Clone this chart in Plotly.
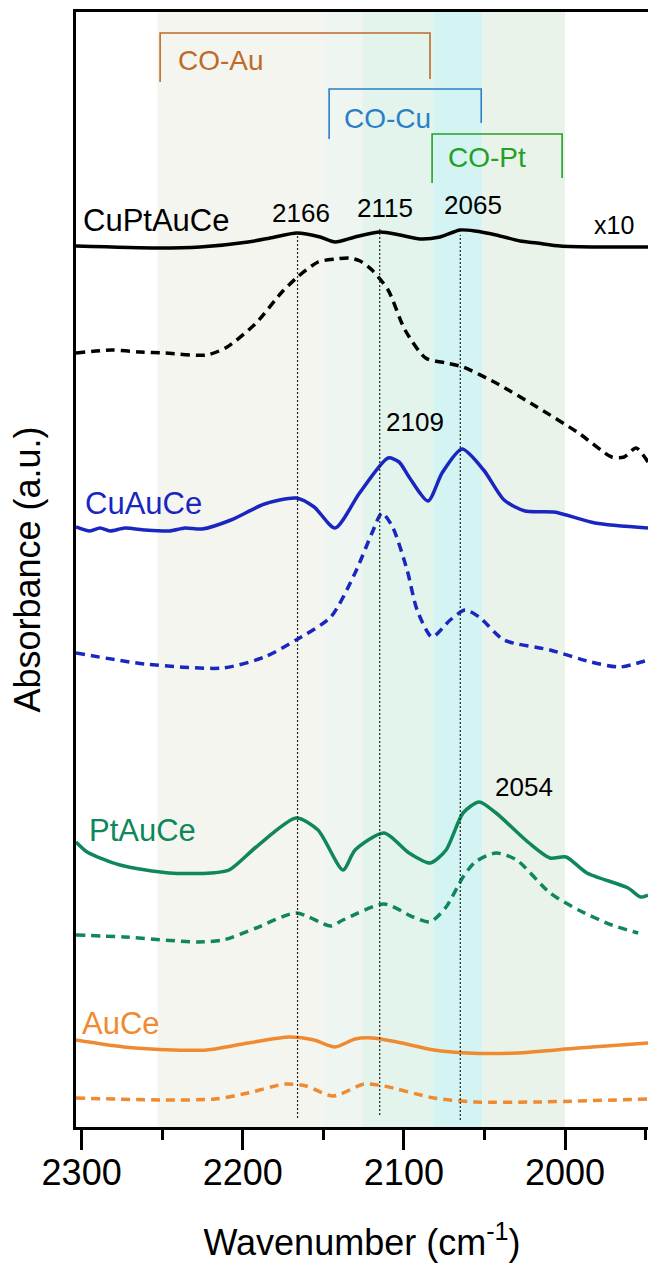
import plotly.graph_objects as go

# ---------------- data (wavenumber, absorbance a.u. with offsets) ----------------
cuptauce_x = [2303.5, 2253, 2226.5, 2196.7, 2183, 2166.3, 2152, 2142.7, 2130.3, 2114.8, 2102.4, 2090,
              2077.6, 2065.2, 2055.8, 2042.8, 2027.9, 2017.4, 2003, 1978.2, 1948.5]
cuptauce_y = [88.1, 87.9, 88.0, 88.5, 88.9, 89.4, 89.0, 88.5, 89.0, 89.5, 89.2, 88.8,
              89.0, 89.7, 89.6, 89.2, 88.6, 88.4, 88.1, 88.0, 88.0]

cuptauce_d_x = [2303.5, 2281.4, 2263.7, 2248.2, 2222.2, 2209.7, 2191.7, 2176.2, 2166, 2153.3, 2142.7,
                2134, 2127.2, 2119.8, 2109.8, 2099.3, 2086.5, 2073.8, 2063.3, 2042.8, 2017.4,
                1991.6, 1971, 1963.3, 1955.9, 1948.5]
cuptauce_d_y = [77.4, 77.7, 77.5, 77.4, 77.2, 78.0, 80.4, 83.4, 85.0, 86.5, 86.8,
                86.9, 86.6, 85.7, 83.7, 79.7, 76.9, 76.4, 76.0, 74.4, 72.0,
                69.4, 67.0, 67.0, 67.9, 66.5]

cuauce_x = [2303.5, 2294.8, 2288.6, 2282.4, 2273.1, 2260.6, 2245.7, 2235.8, 2225.3, 2207.3, 2186.5,
            2166.9, 2155.7, 2142.7, 2127.5, 2109.8, 2103, 2096.8, 2085, 2076.3, 2063.9, 2050.5,
            2037.8, 2024.8, 2006.8, 1981.4, 1948.5]
cuauce_y = [60.0, 59.6, 59.9, 59.6, 59.9, 59.7, 59.6, 59.9, 59.8, 60.7, 62.3,
            62.9, 62.0, 59.9, 63.4, 66.9, 66.5, 65.0, 62.6, 65.4, 67.8, 65.7,
            62.7, 61.6, 61.5, 60.4, 59.9]

cuauce_d_x = [2303.5, 2260.6, 2212.2, 2186.5, 2166.9, 2145.4, 2130.3, 2119.8, 2113.6, 2107, 2098,
              2091.8, 2082.5, 2071.3, 2062, 2053.3, 2037.8, 2009.3, 1983.8, 1965.8, 1948.5]
cuauce_d_y = [47.4, 46.3, 45.9, 47.0, 48.7, 51.0, 55.4, 59.4, 61.4, 60.0, 55.7,
              51.7, 49.0, 50.7, 51.7, 51.0, 48.7, 47.7, 46.5, 46.0, 46.7]

ptauce_x = [2303.5, 2296.6, 2276.2, 2245.7, 2219.7, 2208.5, 2191.7, 2166.9, 2153.3, 2137.8, 2130.3,
            2112.3, 2096.8, 2083.7, 2073.8, 2063.3, 2053.3, 2042.8, 2022.3, 2009.3, 1999.4, 1986.4,
            1960.9, 1953.1, 1948.5]
ptauce_y = [28.5, 27.5, 26.2, 25.4, 25.4, 25.7, 28.0, 30.9, 29.7, 25.7, 27.7,
            29.4, 27.4, 26.4, 27.7, 31.4, 32.5, 31.4, 28.4, 26.9, 27.0, 25.4,
            23.9, 23.0, 23.2]

ptauce_d_x = [2303.5, 2273.7, 2227.7, 2212.2, 2191.7, 2166.9, 2145.4, 2137.8, 2112.3, 2094.3, 2083.7,
              2073.8, 2063.3, 2055.8, 2042.8, 2030, 2009.3, 1991.6, 1971, 1954.6]
ptauce_d_y = [19.2, 19.0, 18.5, 18.7, 19.9, 21.4, 20.1, 20.7, 22.3, 21.0, 20.5,
              22.0, 25.0, 26.5, 27.4, 26.7, 23.4, 21.7, 20.2, 19.4]

auce_x = [2303.5, 2273.7, 2242.9, 2222.4, 2196.7, 2171.3, 2155.7, 2142.7, 2130.3, 2119.8, 2104.3,
          2081.3, 2060.8, 2030, 1991.6, 1948.5]
auce_y = [8.7, 8.0, 7.7, 7.7, 8.4, 9.0, 8.7, 8.0, 8.8, 8.9, 8.5,
          7.7, 7.4, 7.4, 7.9, 8.4]

auce_d_x = [2303.5, 2248.2, 2217.2, 2196.7, 2173.7, 2160.7, 2143.9, 2124.6, 2112.3, 2081.3, 2055.8,
            2017.4, 1948.5]
auce_d_y = [2.9, 2.7, 2.8, 3.4, 4.3, 4.1, 3.1, 4.3, 4.1, 2.9, 2.5,
            2.5, 2.8]

# shaded bands (wavenumber edges) and their colours
band_edges = [2253, 2150, 2125.4, 2081.8, 2051.4, 2000]
band_colors = ["#f5f5ef", "#eff5f0", "#e3f4ec", "#d3f4f3", "#eaf3ea"]

# peak guide lines: position, top, bottom
peak_pos = [2166, 2115, 2065]
peak_top = [89.4, 90.0, 89.2]
peak_bot = [0.9, 1.2, 0.7]

# brackets: left, right, top, left-foot, right-foot, colour, label, label-x, label-y
brackets = [
    (2251.3, 2083.8, 109.4, 104.5, 104.8, "#bf6a2a", "CO-Au", 2241.4, 106.7),
    (2146.4, 2052.0, 103.8, 98.8, 100.4, "#2a7fc8", "CO-Cu", 2138.4, 100.9),
    (2082.5, 2001.8, 99.3, 94.4, 94.9, "#24a024", "CO-Pt", 2074.1, 97.0),
]

BLACK = "#000000"
BLUE = "#1a26c0"
GREEN = "#10875a"
ORANGE = "#f08a30"
FONT = "Liberation Sans, Arial, sans-serif"

fig = go.Figure()

series = [
    (cuptauce_x, cuptauce_y, BLACK, None),
    (cuptauce_d_x, cuptauce_d_y, BLACK, "9px,6px"),
    (cuauce_x, cuauce_y, BLUE, None),
    (cuauce_d_x, cuauce_d_y, BLUE, "9px,6px"),
    (ptauce_x, ptauce_y, GREEN, None),
    (ptauce_d_x, ptauce_d_y, GREEN, "9px,6px"),
    (auce_x, auce_y, ORANGE, None),
    (auce_d_x, auce_d_y, ORANGE, "9px,6px"),
]
for xs, ys, col, dash in series:
    line = dict(color=col, width=3.5, shape="spline", smoothing=0.7)
    if dash:
        line["dash"] = dash
    fig.add_trace(go.Scatter(x=xs, y=ys, mode="lines", line=line, showlegend=False,
                             hoverinfo="skip"))

shapes = []
for i, col in enumerate(band_colors):
    shapes.append(dict(type="rect", xref="x", yref="paper", x0=band_edges[i], x1=band_edges[i + 1],
                       y0=0, y1=1, fillcolor=col, line=dict(width=0), layer="below"))
for p, t, b in zip(peak_pos, peak_top, peak_bot):
    shapes.append(dict(type="line", xref="x", yref="y", x0=p, x1=p, y0=b, y1=t,
                       line=dict(color="#222222", width=1.2, dash="2px,2px"), layer="above"))
annotations = []
for l, r, top, lf, rf, col, lab, lx, ly in brackets:
    shapes.append(dict(type="path", xref="x", yref="y",
                       path=f"M {l},{lf} L {l},{top} L {r},{top} L {r},{rf}",
                       line=dict(color=col, width=1.6)))
    annotations.append(dict(x=lx, y=ly, text=lab, showarrow=False, xanchor="left", yanchor="middle",
                            font=dict(family=FONT, size=28, color=col)))

labels = [
    ("CuPtAuCe", 2300.4, 90.7, BLACK, 31, "left"),
    ("CuAuCe", 2299.4, 62.4, BLUE, 31, "left"),
    ("PtAuCe", 2296.6, 29.7, GREEN, 31, "left"),
    ("AuCe", 2301.0, 10.4, ORANGE, 31, "left"),
    ("2166", 2163.8, 91.4, BLACK, 26, "center"),
    ("2115", 2111.6, 91.9, BLACK, 26, "center"),
    ("2065", 2057.0, 92.2, BLACK, 26, "center"),
    ("2109", 2093.0, 70.5, BLACK, 26, "center"),
    ("2054", 2025.4, 34.0, BLACK, 26, "center"),
    ("x10", 1969.5, 90.2, BLACK, 25, "center"),
]
for txt, x, y, col, sz, anc in labels:
    annotations.append(dict(x=x, y=y, text=txt, showarrow=False, xanchor=anc, yanchor="middle",
                            font=dict(family=FONT, size=sz, color=col)))

fig.update_layout(
    width=648, height=1267,
    margin=dict(l=76, r=0, t=12, b=140),
    paper_bgcolor="white", plot_bgcolor="white",
    shapes=shapes, annotations=annotations,
    font=dict(family=FONT, color="black"),
    xaxis=dict(range=[2303.5, 1948.5], showgrid=False, zeroline=False,
               showline=True, linecolor="black", linewidth=3, mirror=True,
               ticks="outside", ticklen=20, tickwidth=3, tickcolor="black",
               tick0=2000, dtick=100, tickfont=dict(size=36, family=FONT),
               ticklabelstandoff=-8,
               minor=dict(ticks="outside", ticklen=10, tickwidth=3, tickcolor="black",
                          tick0=2000, dtick=50),
               title=dict(text="Wavenumber (cm<sup>-1</sup>)", font=dict(size=36, family=FONT),
                          standoff=38)),
    yaxis=dict(range=[0, 111.5], showgrid=False, zeroline=False, showticklabels=False,
               showline=True, linecolor="black", linewidth=3, mirror=False, ticks="",
               title=dict(text="Absorbance (a.u.)", font=dict(size=36, family=FONT),
                          standoff=22)),
)

fig.write_html("out.html")
